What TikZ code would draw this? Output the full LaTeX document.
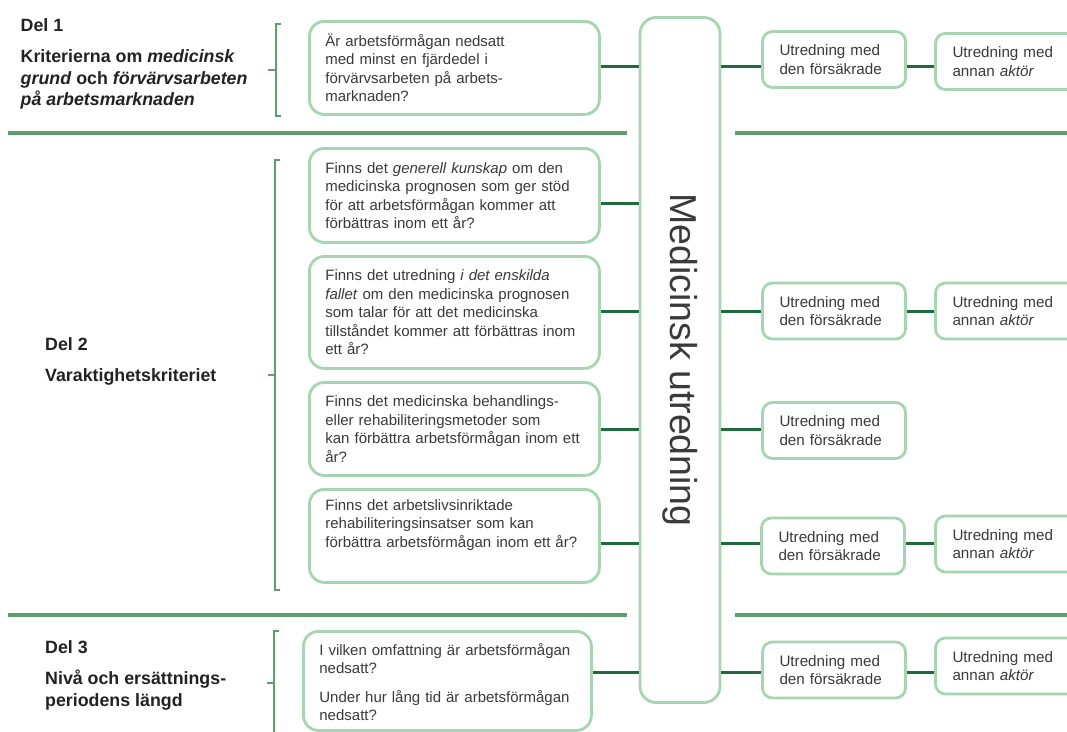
\documentclass[tikz,border=0pt]{standalone}
\usepackage{fontspec}
\usepackage{graphicx}
\setmainfont{Liberation Sans}
\definecolor{boxgreen}{HTML}{A6D5B2}
\definecolor{linkgreen}{HTML}{1F6B3E}
\definecolor{rulegreen}{HTML}{5E9E6E}
\definecolor{textgray}{HTML}{3A3A3A}
\definecolor{headblack}{HTML}{222222}
\tikzset{
  qbox/.style={draw=boxgreen, line width=2.8pt, rounded corners=15pt, fill=white,
    anchor=north west, inner xsep=16pt, inner ysep=8pt, text width=258pt, align=left,
    text=textgray, font=\fontsize{15}{18.5}\selectfont},
  ubox/.style={draw=boxgreen, line width=2.8pt, rounded corners=10pt, fill=white,
    inner xsep=17pt, inner ysep=6pt, text width=109pt, minimum height=56pt, align=left,
    text=textgray, font=\fontsize{15.2}{18.5}\selectfont},
  head/.style={anchor=north west, inner sep=0pt, align=left, text=headblack,
    font=\fontsize{17.8}{21.5}\selectfont\bfseries},
  link/.style={draw=linkgreen, line width=3pt},
  divider/.style={draw=rulegreen, line width=4pt},
  brk/.style={draw=rulegreen, line width=2.8pt}
}
\begin{document}
\begin{tikzpicture}[x=1pt,y=-1pt]

\path[use as bounding box, fill=white] (0,0) rectangle (1067,731);

% rows
\coordinate (r1) at (0,66.5);
\coordinate (r2) at (0,203);
\coordinate (r3) at (0,311);
\coordinate (r4) at (0,429);
\coordinate (r5) at (0,543.5);
\coordinate (r6) at (0,672);

\draw[divider] (8,133) -- (627,133);
\draw[divider] (735,133) -- (1075,133);
\draw[divider] (8,615) -- (627,615);
\draw[divider] (735,615) -- (1075,615);

\node[head] (del1) at (20.5,18) {Del 1\\[10pt]Kriterierna om \textit{medicinsk}\\\textit{grund} och \textit{förvärvsarbeten}\\\textit{på arbetsmarknaden}};
\node[head] (del2) at (45,337) {Del 2\\[10pt]Varaktighetskriteriet};
\node[head] (del3) at (45,640) {Del 3\\[10pt]Nivå och ersättnings-\\periodens längd};

\draw[brk] (281,24) -- (276,24) -- (276,116) -- (281,116);
\draw[brk] (276,70) -- (268,70);
\draw[brk] (280,160) -- (275,160) -- (275,590) -- (280,590);
\draw[brk] (275,375) -- (268,375);
\draw[brk] (279,631) -- (274,631) -- (274,745);
\draw[brk] (274,683) -- (267,683);

\node[qbox, minimum height=93pt] (q1) at (308,20) {Är arbetsförmågan nedsatt\\med minst en fjärdedel i\\förvärvsarbeten på arbets-\\marknaden?};
\node[qbox, minimum height=94pt] (q2a) at (308,147) {Finns det \textit{generell kunskap} om den\\medicinska prognosen som ger stöd\\för att arbetsförmågan kommer att\\förbättras inom ett år?};
\node[qbox, minimum height=112pt] (q2b) at (308,255) {Finns det utredning \textit{i det enskilda}\\\textit{fallet} om den medicinska prognosen\\som talar för att det medicinska\\tillståndet kommer att förbättras inom\\ett år?};
\node[qbox, minimum height=93pt] (q2c) at (308,381) {Finns det medicinska behandlings-\\eller rehabiliteringsmetoder som\\kan förbättra arbetsförmågan inom ett\\år?};
\node[qbox, minimum height=93pt, text depth=62pt] (q2d) at (308,488) {Finns det arbetslivsinriktade\\rehabiliteringsinsatser som kan\\förbättra arbetsförmågan inom ett år?};
\node[qbox, minimum height=99pt, text width=256pt, text height=14pt] (q3) at (302,630) {I vilken omfattning är arbetsförmågan\\nedsatt?\\[10pt]Under hur lång tid är arbetsförmågan\\nedsatt?};

\node[draw=boxgreen, line width=2.8pt, rounded corners=16pt, fill=white,
  minimum width=80pt, minimum height=685pt, text=textgray,
  font=\fontsize{37.5}{40}\selectfont] (mid) at (680,360) {\rotatebox{-90}{Medicinsk utredning}};

\node[ubox] (uA) at (834,59.5) {Utredning med\\den försäkrade};
\node[ubox] (aA) at (1007,61.5) {Utredning med\\annan \textit{aktör}};
\node[ubox] (uB) at (834,311) {Utredning med\\den försäkrade};
\node[ubox] (aB) at (1007,311) {Utredning med\\annan \textit{aktör}};
\node[ubox] (uC) at (834,430.5) {Utredning med\\den försäkrade};
\node[ubox] (uD) at (833,546) {Utredning med\\den försäkrade};
\node[ubox] (aD) at (1007,544) {Utredning med\\annan \textit{aktör}};
\node[ubox] (uE) at (834,670) {Utredning med\\den försäkrade};
\node[ubox] (aE) at (1007,666) {Utredning med\\annan \textit{aktör}};

\draw[link] (q1.east |- r1) -- (mid.west |- r1);
\draw[link] (q2a.east |- r2) -- (mid.west |- r2);
\draw[link] (q2b.east |- r3) -- (mid.west |- r3);
\draw[link] (q2c.east |- r4) -- (mid.west |- r4);
\draw[link] (q2d.east |- r5) -- (mid.west |- r5);
\draw[link] (q3.east |- r6) -- (mid.west |- r6);

\draw[link] (mid.east |- r1) -- (uA.west |- r1);
\draw[link] (uA.east |- r1) -- (aA.west |- r1);
\draw[link] (mid.east |- r3) -- (uB.west |- r3);
\draw[link] (uB.east |- r3) -- (aB.west |- r3);
\draw[link] (mid.east |- r4) -- (uC.west |- r4);
\draw[link] (mid.east |- r5) -- (uD.west |- r5);
\draw[link] (uD.east |- r5) -- (aD.west |- r5);
\draw[link] (mid.east |- r6) -- (uE.west |- r6);
\draw[link] (uE.east |- r6) -- (aE.west |- r6);

\end{tikzpicture}
\end{document}
